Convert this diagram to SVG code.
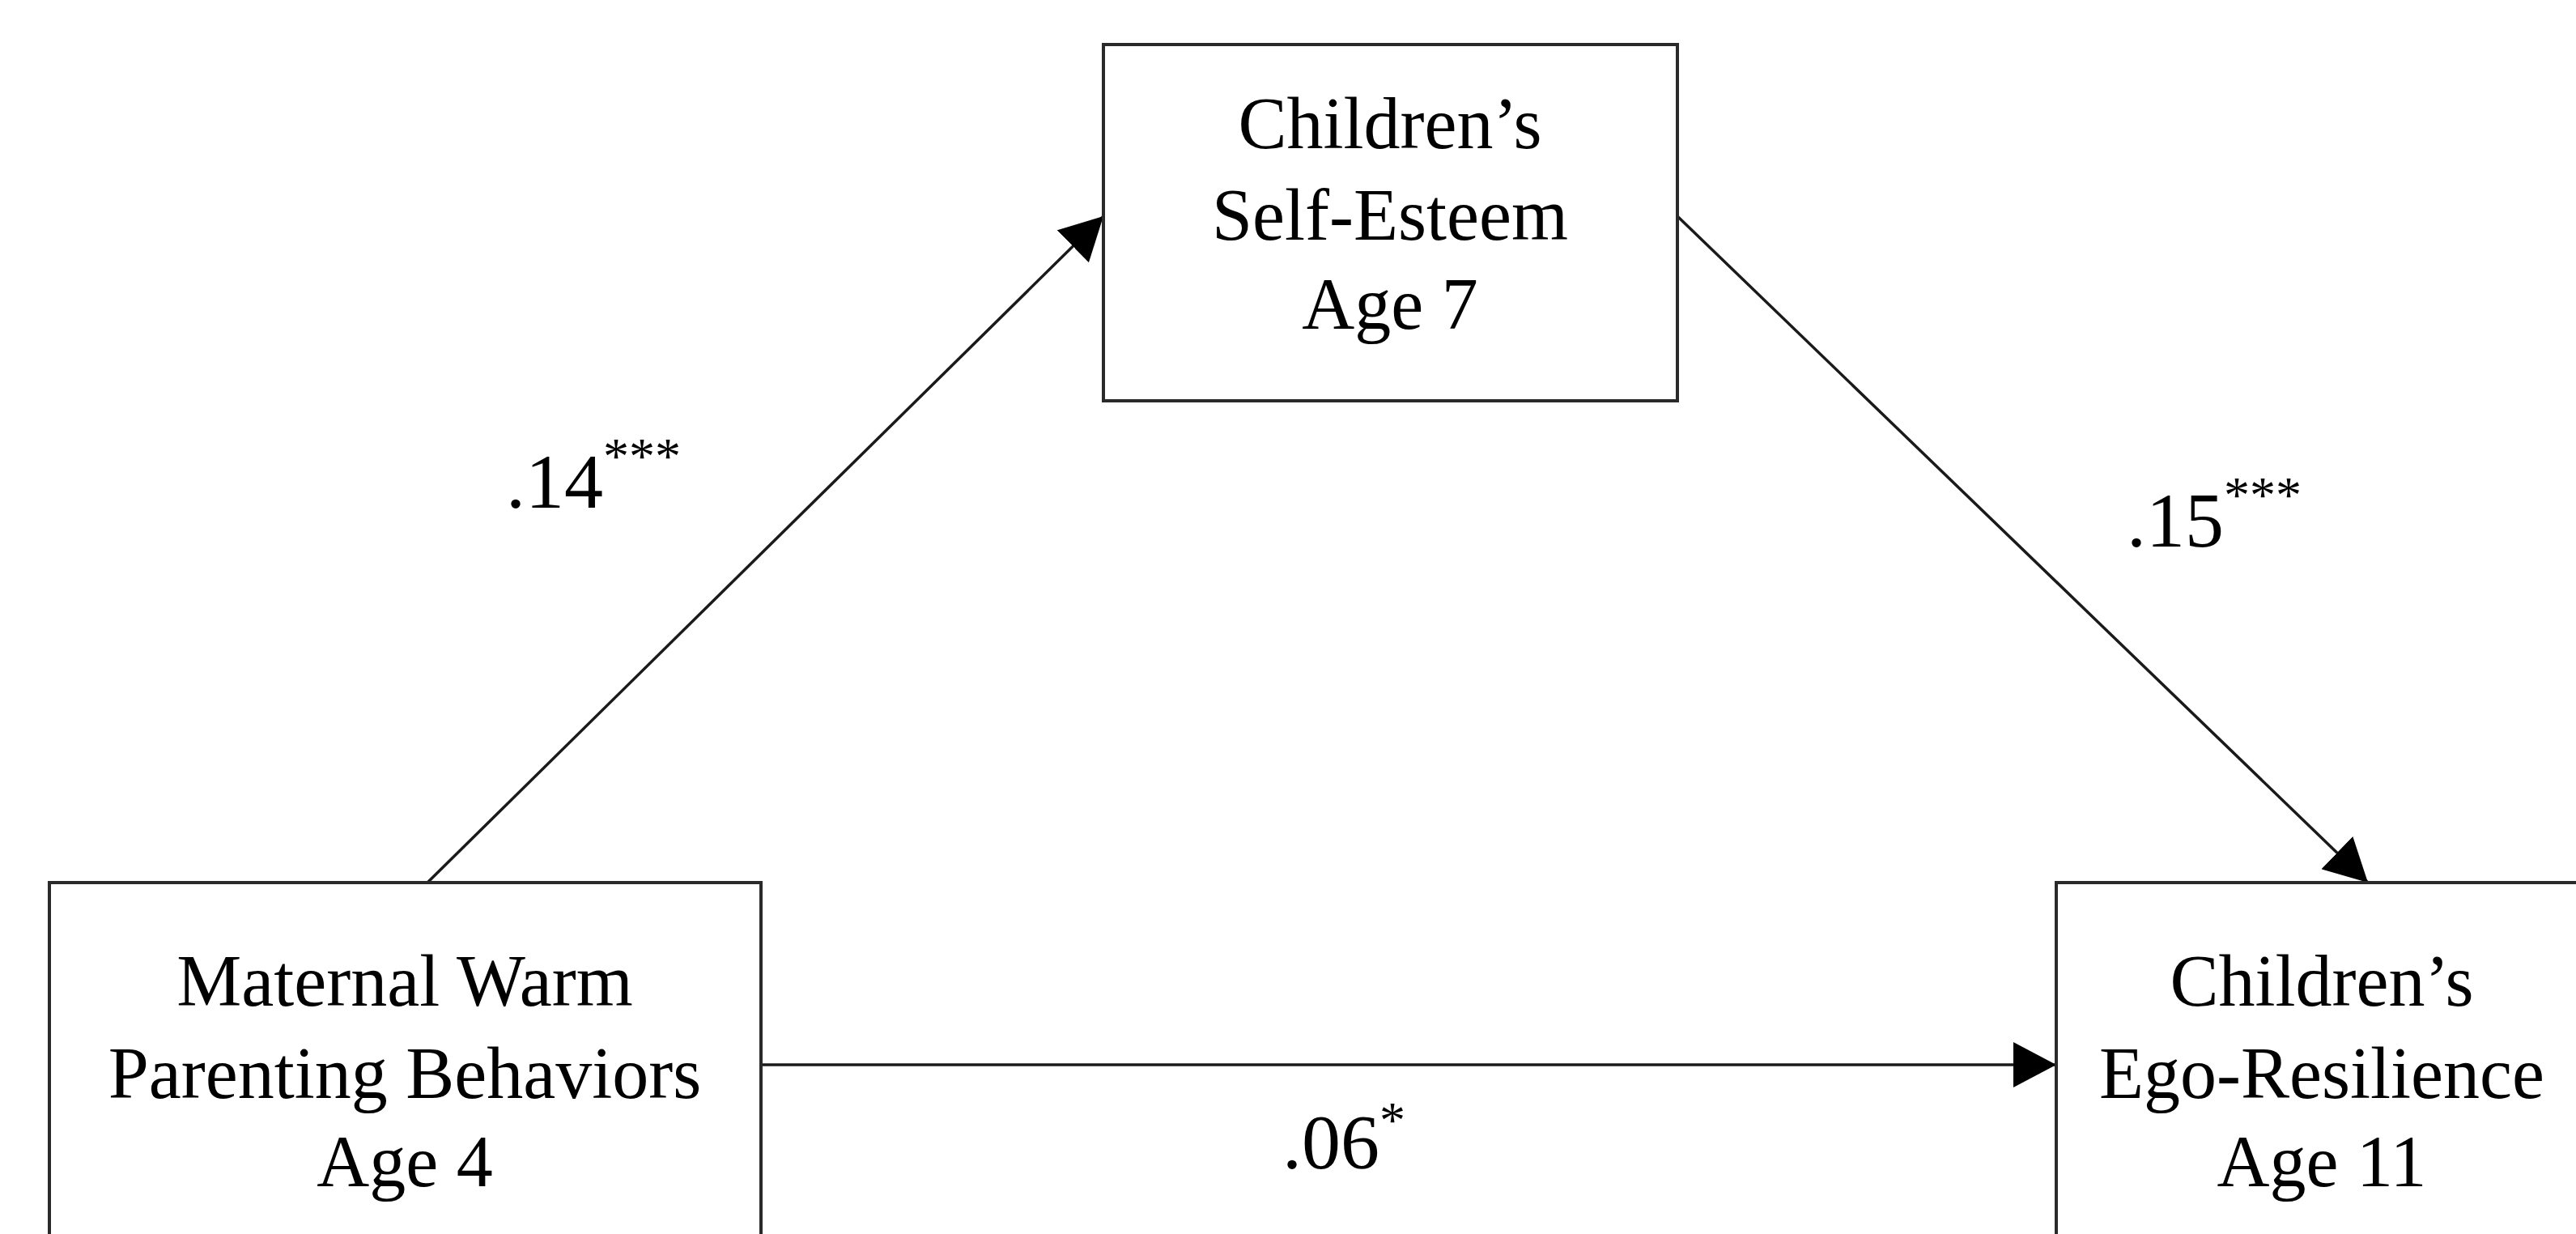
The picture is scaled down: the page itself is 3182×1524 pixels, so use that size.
<svg xmlns="http://www.w3.org/2000/svg" width="3182" height="1524" viewBox="0 0 3182 1524">
<style>
.box{fill:#fff;stroke:#2a2a2a;stroke-width:4}
.t{font-family:"Liberation Serif","Times New Roman",serif;font-size:90px;fill:#000;text-anchor:middle}
.lbl{font-family:"Liberation Serif","Times New Roman",serif;font-size:96px;fill:#000}
.sup{font-size:64px}
.edge{stroke:#1a1a1a;stroke-width:3.5;fill:none;marker-end:url(#ah)}
</style>
<defs>
<marker id="ah" markerUnits="userSpaceOnUse" markerWidth="56" markerHeight="56" refX="53" refY="28" orient="auto">
<path d="M0,0 L53,28 L0,56 Z" fill="#000"/>
</marker>
</defs>
<rect width="3182" height="1524" fill="#fff"/>
<g id="connectors">
<line class="edge" x1="528" y1="1090" x2="1363" y2="267"/>
<line class="edge" x1="2072" y1="267" x2="2925" y2="1090"/>
<line class="edge" x1="940" y1="1315" x2="2540" y2="1315"/>
</g>
<g id="node-self-esteem">
<rect class="box" x="1363" y="55" width="709" height="440"/>
<text class="t" x="1717" y="183">Children’s</text>
<text class="t" x="1717" y="296">Self-Esteem</text>
<text class="t" x="1717" y="406">Age 7</text>
</g>
<g id="node-maternal">
<rect class="box" x="61" y="1090" width="879" height="500"/>
<text class="t" x="500" y="1242">Maternal Warm</text>
<text class="t" x="500" y="1356">Parenting Behaviors</text>
<text class="t" x="500" y="1465">Age 4</text>
</g>
<g id="node-ego-resilience">
<rect class="box" x="2540" y="1090" width="700" height="500"/>
<text class="t" x="2868" y="1242">Children’s</text>
<text class="t" x="2868" y="1356">Ego-Resilience</text>
<text class="t" x="2868" y="1465">Age 11</text>
</g>
<g id="labels">
<text class="lbl" x="625" y="627">.14<tspan class="sup" dy="-42">***</tspan></text>
<text class="lbl" x="2627" y="675">.15<tspan class="sup" dy="-42">***</tspan></text>
<text class="lbl" x="1584" y="1443">.06<tspan class="sup" dy="-38">*</tspan></text>
</g>
</svg>
